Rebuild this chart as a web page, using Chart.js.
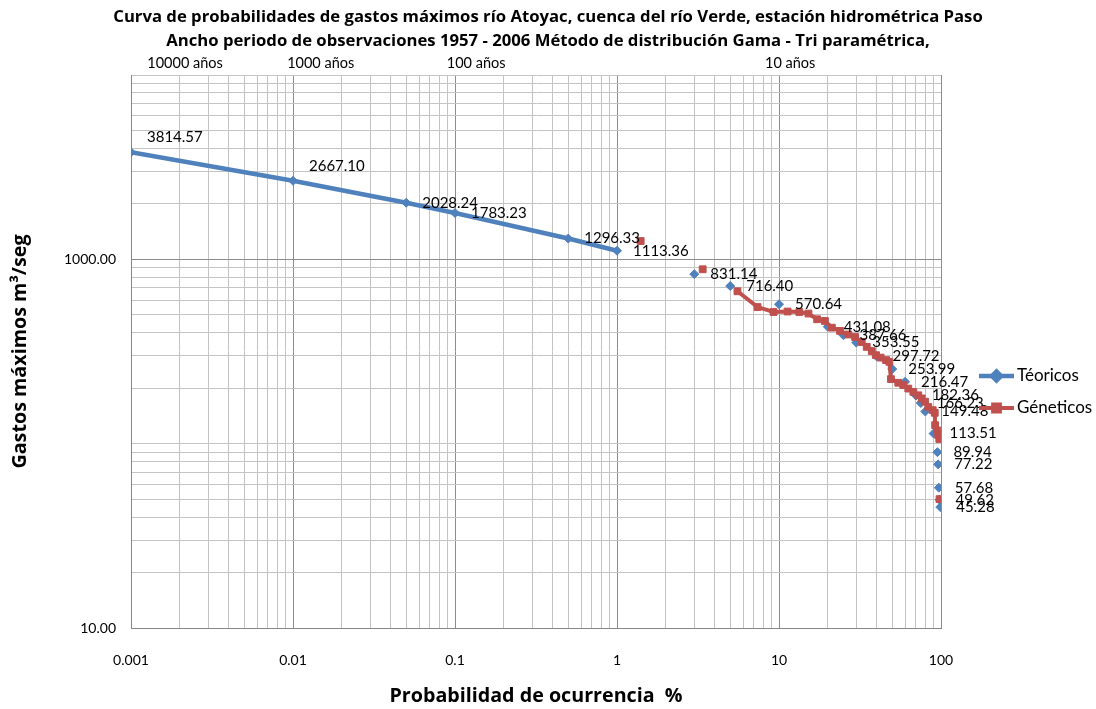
<!DOCTYPE html>
<html>
<head>
<meta charset="utf-8">
<script src="https://cdn.jsdelivr.net/npm/chart.js@4.4.1/dist/chart.umd.min.js"></script>
<style>
  html, body { margin: 0; padding: 0; background: #ffffff; }
  canvas { display: block; }
</style>
</head>
<body>
<canvas id="curva" width="1096" height="709"></canvas>
<script>
// Texts
const titleLines = [
  'Curva de probabilidades de gastos máximos río Atoyac, cuenca del río Verde, estación hidrométrica Paso',
  'Ancho periodo de observaciones 1957 - 2006 Método de distribución Gama - Tri paramétrica,'
];
const xAxisTitle = 'Probabilidad de ocurrencia  %';
const yAxisTitle = 'Gastos máximos m³/seg';
const seriesNames = ['Téoricos', 'Géneticos'];
const periodLabels = ['10000 años', '1000 años', '100 años', '10 años'];

// Teóricos: probability of exceedance (%) and peak flow (m³/s)
const teoricosProb = [0.001, 0.01, 0.05, 0.1, 0.5, 1, 3, 5, 10, 20, 25, 30, 40, 50, 60, 70, 75, 80, 90, 95, 96, 97, 98, 99];
const teoricosGasto = [3814.57, 2667.10, 2028.24, 1783.23, 1296.33, 1113.36, 831.14, 716.40, 570.64, 431.08, 387.66, 353.55,
  297.72, 253.99, 216.47, 182.36, 166.23, 149.48, 113.51, 89.94, 77.22, 57.68, 49.62, 45.28];

// Géneticos: probability (%) and peak flow (m³/s)
const geneticosProb = [1.40, 3.38, 5.54, 7.37, 9.25, 11.3, 13.35, 15.2, 17.2, 19.2, 21.2, 23.8, 26.8, 29.5, 32.4, 34.8,
  37.4, 39.7, 42.4, 45.8, 48.0, 49.1, 54.5, 58.5, 62.8, 67.5, 72.4, 76.0, 79.7, 83.5, 88.9, 91.5, 92.0, 94.9, 96.2, 97.6, 97.9];
const geneticosGasto = [1257, 883, 671, 551, 518, 521, 518, 508, 473, 463, 426, 409, 391, 379, 356, 335,
  318, 302, 293, 284, 278, 224, 214, 208, 199, 191, 183, 176, 169, 158, 152, 147, 126, 118, 111, 106, 50];

// Axis ticks
const xTickValues = [0.001, 0.01, 0.1, 1, 10, 100];
const xTickLabels = ['0.001', '0.01', '0.1', '1', '10', '100'];
const yTickValues = [10, 1000];
const yTickLabels = ['10.00', '1000.00'];

const FONT = 'Lato, "Open Sans", sans-serif';
const BOLD_FONT = '"Open Sans", Lato, sans-serif';
const BLUE = '#4F81BD';
const RED = '#C0504D';

// 1..9 x 10^n grid positions across each decade of the range
function logGrid(min, max) {
  const out = [];
  const e0 = Math.round(Math.log10(min)), e1 = Math.round(Math.log10(max));
  for (let e = e0; e < e1; e++) {
    for (let k = 1; k < 10; k++) out.push(parseFloat((k * Math.pow(10, e)).toPrecision(6)));
  }
  out.push(max);
  return out;
}
const near = (a, b) => Math.abs(a - b) <= Math.abs(b) * 1e-6;
function labelFor(values, labels, v) {
  const i = values.findIndex(t => near(v, t));
  return i < 0 ? '' : labels[i];
}

// Title across the full width, value labels, return-period notes and the legend
const decorPlugin = {
  id: 'decor',
  afterDatasetsDraw(chart) {
    const { ctx, scales: { x, y } } = chart;
    ctx.save();
    ctx.fillStyle = '#000000';
    ctx.textBaseline = 'middle';

    ctx.textAlign = 'center';
    ctx.font = 'bold 16.7px ' + BOLD_FONT;
    titleLines.forEach((t, i) => ctx.fillText(t, chart.width / 2, 17 + i * 24));

    ctx.textAlign = 'left';
    ctx.font = '15px ' + FONT;
    teoricosProb.forEach((p, i) => {
      const px = x.getPixelForValue(p);
      const py = y.getPixelForValue(teoricosGasto[i]);
      const lift = i < 2 ? 15 : 0;
      ctx.fillText(teoricosGasto[i].toFixed(2), px + 16, py - lift);
    });

    // return periods written above the plot
    const periodAt = [0.00126, 0.0092, 0.089, 8.2];
    ctx.font = '14.5px ' + FONT;
    periodLabels.forEach((t, i) => {
      ctx.fillText(t, x.getPixelForValue(periodAt[i]), chart.chartArea.top - 12);
    });

    // legend
    const lx = chart.chartArea.right + 38;
    const rows = [chart.chartArea.top + 301, chart.chartArea.top + 333];
    ctx.font = '17px ' + FONT;
    chart.data.datasets.forEach((ds, i) => {
      const ly = rows[i];
      ctx.strokeStyle = ds.borderColor;
      ctx.lineWidth = ds.borderWidth;
      ctx.beginPath();
      ctx.moveTo(lx, ly);
      ctx.lineTo(lx + 35, ly);
      ctx.stroke();
      Chart.helpers.drawPoint(ctx, {
        pointStyle: ds.pointStyle, radius: ds.pointRadius, borderWidth: 1
      }, lx + 17.5, ly);
      ctx.fillStyle = ds.backgroundColor;
      ctx.fill();
      ctx.fillStyle = '#000000';
      ctx.fillText(ds.label, lx + 38, ly);
    });
    ctx.restore();
  }
};

const gridColor = c => (c.tick && c.tick.major) ? '#8c8c8c' : '#c4c4c4';

new Chart(document.getElementById('curva'), {
  type: 'scatter',
  data: {
    datasets: [
      {
        label: seriesNames[0],
        data: teoricosProb.map((p, i) => ({ x: p, y: teoricosGasto[i] })),
        showLine: true,
        borderColor: BLUE,
        backgroundColor: BLUE,
        borderWidth: 4.5,
        pointStyle: 'rectRot',
        pointRadius: 4.5,
        pointBorderWidth: 1,
        pointBorderColor: BLUE,
        pointBackgroundColor: BLUE,
        order: 1,
        segment: { borderColor: c => c.p0DataIndex >= 5 ? 'rgba(0,0,0,0)' : undefined }
      },
      {
        label: seriesNames[1],
        data: geneticosProb.map((p, i) => ({ x: p, y: geneticosGasto[i] })),
        showLine: true,
        borderColor: RED,
        backgroundColor: RED,
        borderWidth: 4,
        pointStyle: 'rect',
        pointRadius: 4.8,
        pointBorderWidth: 1,
        pointBorderColor: RED,
        pointBackgroundColor: RED,
        order: 0,
        segment: {
          borderColor: c => (c.p0DataIndex < 2 || c.p1DataIndex === geneticosProb.length - 1) ? 'rgba(0,0,0,0)' : undefined
        }
      }
    ]
  },
  options: {
    responsive: false,
    animation: false,
    layout: { padding: { left: 0, right: 155, top: 75, bottom: 0 } },
    plugins: {
      legend: { display: false },
      tooltip: { enabled: false },
      title: { display: false }
    },
    scales: {
      x: {
        type: 'logarithmic',
        position: 'bottom',
        min: 0.001,
        max: 100,
        afterBuildTicks: s => {
          s.ticks = logGrid(0.001, 100).map(v => ({ value: v, major: xTickValues.some(t => near(v, t)) }));
        },
        afterFit: s => { s.height = 81; },
        ticks: {
          autoSkip: false,
          maxRotation: 0,
          padding: 24,
          color: '#000000',
          font: { family: FONT, size: 14 },
          callback: v => labelFor(xTickValues, xTickLabels, v)
        },
        grid: { color: gridColor, lineWidth: 1, drawTicks: false },
        border: { color: '#868686', width: 1 },
        title: {
          display: true,
          text: xAxisTitle,
          color: '#000000',
          font: { family: BOLD_FONT, size: 19.7, weight: 'bold' },
          padding: { top: 0, bottom: 1 }
        }
      },
      y: {
        type: 'logarithmic',
        position: 'left',
        min: 10,
        max: 10000,
        afterBuildTicks: s => {
          s.ticks = logGrid(10, 10000).map(v => ({ value: v, major: yTickValues.some(t => near(v, t)) }));
        },
        afterFit: s => { s.width = 131; },
        ticks: {
          autoSkip: false,
          padding: 15,
          color: '#000000',
          font: { family: FONT, size: 14 },
          callback: v => labelFor(yTickValues, yTickLabels, v)
        },
        grid: { color: gridColor, lineWidth: 1, drawTicks: false },
        border: { color: '#868686', width: 1 },
        title: {
          display: true,
          text: yAxisTitle,
          color: '#000000',
          font: { family: BOLD_FONT, size: 19.7, weight: 'bold' },
          padding: { top: 9, bottom: 0 }
        }
      }
    }
  },
  plugins: [decorPlugin]
});
</script>
</body>
</html>
